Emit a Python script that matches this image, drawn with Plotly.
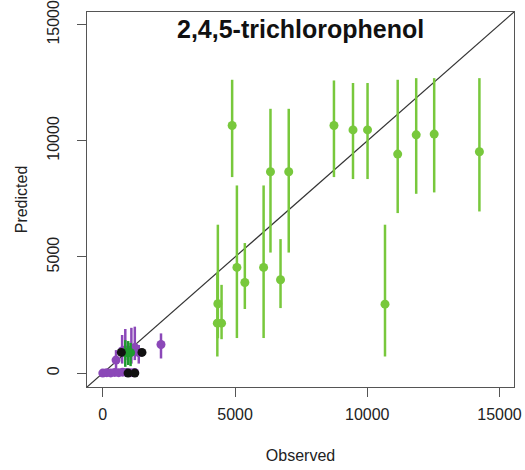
import plotly.graph_objects as go

# light green series (large observations)
obs_green = [4890, 6340, 7030, 8740, 9460, 10010, 11150, 11850, 12530, 14240,
             10670, 4350, 4330, 4490, 5070, 5370, 6080, 6720]
pred_green = [10660, 8670, 8670, 10660, 10470, 10470, 9430, 10260, 10290, 9530,
              2970, 2985, 2150, 2150, 4550, 3900, 4550, 4020]
upper_green = [12630, 11380, 11380, 12600, 12490, 12490, 12630, 12700, 12700, 12700,
               6390, 6390, 4300, 3800, 8080, 5600, 8080, 5770]
lower_green = [8440, 5190, 5190, 8440, 8355, 8355, 6890, 7720, 7780, 6960,
               715, 1500, 715, 1460, 1510, 2760, 1510, 2800]

# purple series
obs_purple = [0, 150, 300, 450, 600, 750, 900, 1050, 1200,
              500, 730, 850, 1080, 1210, 1360, 2200]
pred_purple = [0, 20, 10, 30, 20, 40, 30, 20, 30,
               560, 950, 1000, 1000, 1100, 880, 1230]
upper_purple = [100, 120, 110, 130, 120, 140, 130, 120, 130,
                990, 1640, 1900, 1950, 2000, 1210, 1710]
lower_purple = [-80, -60, -70, -50, -60, -40, -50, -60, -50,
                130, 410, 560, 410, 560, 410, 630]

# dark green series
obs_dgreen = [850, 960, 1050]
pred_dgreen = [880, 900, 880]
upper_dgreen = [1420, 1380, 1300]
lower_dgreen = [270, 350, 300]

# black series
obs_black = [700, 1480, 955, 1210]
pred_black = [890, 890, 0, 0]

AX_RANGE = [-598, 15548]
TICKS = [0, 5000, 10000, 15000]


def _series(x, y, up, lo, color):
    return go.Scatter(
        x=x, y=y, mode="markers",
        marker=dict(color=color, size=9, line=dict(width=0)),
        error_y=dict(
            type="data", symmetric=False,
            array=[u - v for u, v in zip(up, y)],
            arrayminus=[v - l for v, l in zip(y, lo)],
            color=color, thickness=2.5, width=0,
        ),
        showlegend=False,
    )


fig = go.Figure()
fig.add_trace(go.Scatter(
    x=AX_RANGE, y=AX_RANGE, mode="lines",
    line=dict(color="#333333", width=1.2), showlegend=False,
))
fig.add_trace(_series(obs_green, pred_green, upper_green, lower_green, "#78C83C"))
fig.add_trace(_series(obs_purple, pred_purple, upper_purple, lower_purple, "#8B48B8"))
fig.add_trace(_series(obs_dgreen, pred_dgreen, upper_dgreen, lower_dgreen, "#1E9A2E"))
fig.add_trace(go.Scatter(
    x=obs_black, y=pred_black, mode="markers",
    marker=dict(color="#111111", size=9), showlegend=False,
))

font = dict(family="Liberation Sans", size=16, color="#222222")
axis = dict(
    range=AX_RANGE, tickvals=TICKS, ticktext=[str(t) for t in TICKS],
    showgrid=False, zeroline=False, automargin=False,
    showline=True, mirror=True, linecolor="#555555", linewidth=1.2,
    ticks="outside", ticklen=9, tickcolor="#555555", tickwidth=1.2,
    tickfont=font, ticklabeloverflow="allow",
)
fig.update_xaxes(**axis, ticklabelstandoff=4,
                 title=dict(text="Observed", standoff=27, font=font))
fig.update_yaxes(**axis, tickangle=-90, ticklabelstandoff=12,
                 title=dict(text="Predicted", standoff=12, font=font))

fig.add_annotation(
    text="<b>2,4,5-trichlorophenol</b>", xref="paper", yref="paper",
    x=0.5, y=0.954, xanchor="center", yanchor="middle", showarrow=False,
    font=dict(family="Liberation Sans", size=25, color="#111111"),
)

fig.update_layout(
    width=525, height=470,
    margin=dict(l=87, r=11, t=12, b=83),
    plot_bgcolor="white", paper_bgcolor="white",
)

# drop the default 8px page margin so the figure fills the window
fig.write_html("out.html", config={"displayModeBar": False},
               post_script="document.body.style.margin='0';")
